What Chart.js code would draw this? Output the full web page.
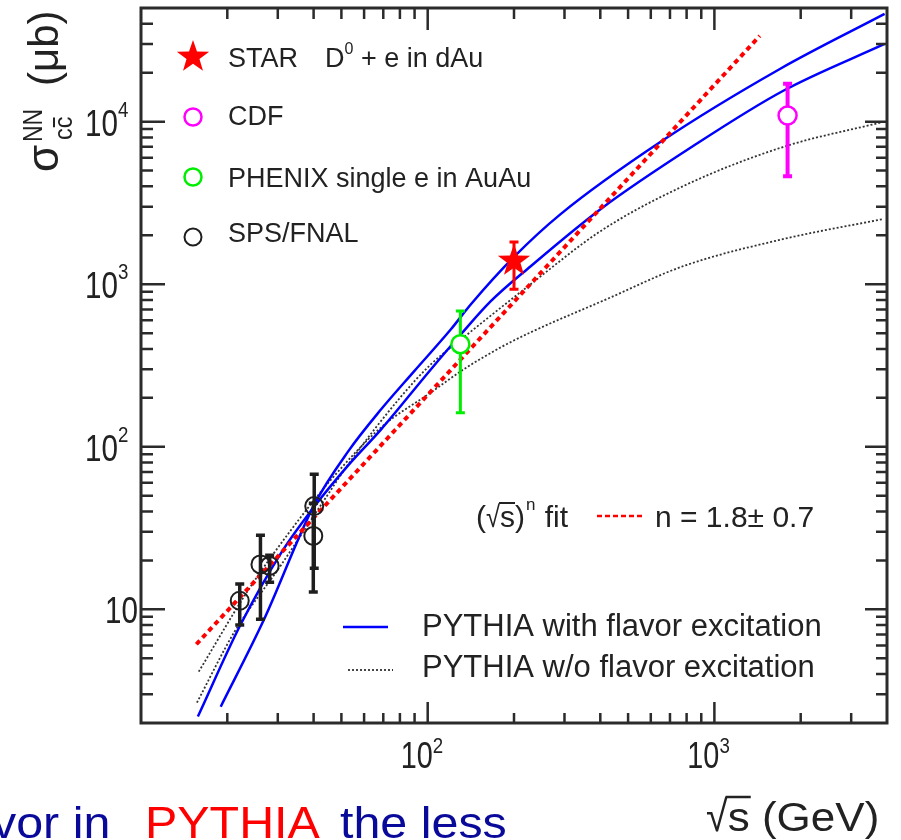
<!DOCTYPE html>
<html>
<head>
<meta charset="utf-8">
<script src="https://cdn.jsdelivr.net/npm/chart.js@4/dist/chart.umd.min.js"></script>
<style>
  html, body { margin: 0; padding: 0; background: #fff; overflow: hidden; }
  canvas { display: block; }
</style>
</head>
<body>
<canvas id="chart" width="901" height="840"></canvas>
<script>
// measured points
const starX = [200], starY = [1390], starLo = [930], starHi = [1820];
const cdfX = [1800], cdfY = [10900], cdfLo = [4610], cdfHi = [17100];
const phenixX = [130], phenixY = [428], phenixLo = [162], phenixHi = [685];
const spsX = [22.1, 26.1, 28.1, 40.2, 39.9];
const spsY = [11.3, 18.9, 18.5, 43.2, 28.3];
const spsLo = [8.0, 8.7, 14.7, 17.9, 12.8];
const spsHi = [14.3, 28.6, 21.5, 67.8, 45];

// PYTHIA with flavor excitation (upper / lower curve)
const fexHiX = [18.97, 26.75, 40.25, 52.8, 68.8, 89.6, 120.5, 141.5, 199.6, 290.8, 647.5, 1692, 3924];
const fexHiY = [2.52, 8.53, 44.2, 93.7, 170, 291, 528, 753, 1467, 2698, 7488, 21080, 45970];
const fexLoX = [15.79, 22.08, 30.9, 40.25, 52.8, 68.8, 102.7, 130.6, 166, 228.7, 400.6, 843, 1733, 3924];
const fexLoY = [2.19, 7.84, 22.4, 42.95, 76.8, 128, 300, 492, 786, 1291, 2895, 7077, 15430, 30050];

// PYTHIA w/o flavor excitation
const noFexHiX = [15.67, 21.21, 30.9, 42.56, 52.8, 80.8, 102.7, 133.7, 228.7, 400.6, 778.4, 1733, 3861];
const noFexHiY = [2.67, 7.30, 18.9, 44.2, 77.9, 204, 322, 472, 1000, 2120, 4012, 6977, 9943];
const noFexLoX = [15.9, 23.73, 33.47, 46.1, 68.8, 102.7, 133.7, 179.8, 228.7, 420.2, 778.4, 1733, 3861];
const noFexLoY = [4.14, 13.24, 31.0, 63.0, 131.7, 216, 300, 409, 506, 808, 1291, 1893, 2513];

// (sqrt s)^n fit
const fitX = [15.6, 200, 1440];
const fitY = [6.1, 780, 33700];

const xTickVals = [100, 1000], xTickExp = ['2', '3'];
const yTickVals = [10, 100, 1000, 10000], yTickExp = ['', '2', '3', '4'];

const FONT = '"Liberation Sans", Arial, sans-serif';
const pts = (xs, ys) => xs.map((x, i) => ({ x, y: ys[i] }));

const starImg = (() => {
    const c = document.createElement('canvas');
    c.width = c.height = 36;
    const g = c.getContext('2d');
    g.fillStyle = '#ff0000';
    g.beginPath();
    for (let i = 0; i < 10; i++) {
        const r = i % 2 ? 6.8 : 17;
        const a = -Math.PI / 2 + i * Math.PI / 5;
        g.lineTo(18 + r * Math.cos(a), 18 + r * Math.sin(a));
    }
    g.closePath();
    g.fill();
    return c;
})();

function txt(ctx, s, x, y, size, color, sx = 1, align = 'left') {
    ctx.save();
    ctx.font = size + 'px ' + FONT;
    ctx.fillStyle = color;
    ctx.textAlign = align;
    ctx.textBaseline = 'alphabetic';
    ctx.translate(x, y);
    ctx.scale(sx, 1);
    ctx.fillText(s, 0, 0);
    const w = ctx.measureText(s).width * sx;
    ctx.restore();
    return w;
}

const errSets = [
    { xs: starX, lo: starLo, hi: starHi, color: '#ff0000', w: 3 },
    { xs: cdfX, lo: cdfLo, hi: cdfHi, color: '#ff00ff', w: 4 },
    { xs: phenixX, lo: phenixLo, hi: phenixHi, color: '#00ee00', w: 3 },
    { xs: spsX, lo: spsLo, hi: spsHi, color: '#1e1e1e', w: 3.5 }
];

const decor = {
    id: 'decor',
    afterDatasetDraw(chart, args) {
        if (args.index !== 4) return;
        const { ctx, scales: { x, y } } = chart;
        ctx.save();
        errSets.forEach(e => {
            ctx.strokeStyle = e.color;
            ctx.lineWidth = e.w;
            e.xs.forEach((v, i) => {
                const px = x.getPixelForValue(v);
                const y1 = y.getPixelForValue(e.lo[i]);
                const y2 = y.getPixelForValue(e.hi[i]);
                ctx.beginPath();
                ctx.moveTo(px, y1); ctx.lineTo(px, y2);
                ctx.moveTo(px - 4.5, y1); ctx.lineTo(px + 4.5, y1);
                ctx.moveTo(px - 4.5, y2); ctx.lineTo(px + 4.5, y2);
                ctx.stroke();
            });
        });
        ctx.restore();
    },
    afterDraw(chart) {
        const { ctx, chartArea: a, scales: { x, y } } = chart;
        ctx.save();
        ctx.strokeStyle = '#2b2b2b';
        ctx.lineWidth = 2.5;
        // ticks on all four sides, pointing inward
        for (let d = 10; d <= 1000; d *= 10) {
            for (let m = 1; m <= 9; m++) {
                const v = m * d;
                if (v <= x.min || v >= x.max) continue;
                const px = x.getPixelForValue(v);
                const major = m === 1;
                ctx.beginPath();
                ctx.moveTo(px, a.bottom); ctx.lineTo(px, a.bottom - (major ? 21 : 10));
                ctx.moveTo(px, a.top); ctx.lineTo(px, a.top + (major ? 22 : 11));
                ctx.stroke();
            }
        }
        for (let d = 1; d <= 10000; d *= 10) {
            for (let m = 1; m <= 9; m++) {
                const v = m * d;
                if (v <= y.min || v >= y.max) continue;
                const py = y.getPixelForValue(v);
                const major = m === 1;
                ctx.beginPath();
                ctx.moveTo(a.left, py); ctx.lineTo(a.left + (major ? 24 : 12), py);
                ctx.moveTo(a.right, py); ctx.lineTo(a.right - (major ? 22 : 11), py);
                ctx.stroke();
            }
        }
        ctx.lineWidth = 3;
        ctx.strokeRect(a.left, a.top, a.right - a.left, a.bottom - a.top);
        ctx.restore();

        // tick labels
        const ink = '#222';
        yTickVals.forEach((v, i) => {
            const py = y.getPixelForValue(v);
            if (yTickExp[i]) {
                txt(ctx, '10', 118, py + 14, 37, ink, 0.8, 'right');
                txt(ctx, yTickExp[i], 118, py - 5, 22, ink, 0.85);
            } else {
                txt(ctx, '10', 138, py + 14, 37, ink, 0.8, 'right');
            }
        });
        xTickVals.forEach((v, i) => {
            const px = x.getPixelForValue(v);
            txt(ctx, '10', px + 5, 768, 36, ink, 0.8, 'right');
            txt(ctx, xTickExp[i], px + 5, 753, 22, ink, 0.85);
        });

        // axis titles
        ctx.save();
        ctx.translate(58, 172);
        ctx.rotate(-Math.PI / 2);
        txt(ctx, 'σ', 0, 0, 44, ink);
        txt(ctx, 'NN', 30, -16, 27, ink, 0.85);
        const cw = txt(ctx, 'c', 32, 14, 26, ink, 0.9);
        txt(ctx, 'c', 32 + cw, 14, 26, ink, 0.9);
        ctx.strokeStyle = ink; ctx.lineWidth = 2;
        ctx.beginPath(); ctx.moveTo(33 + cw, -4); ctx.lineTo(31 + 2 * cw, -4); ctx.stroke();
        txt(ctx, '(μb)', 86, 0, 42, ink);
        ctx.restore();

        let xx = 706;
        xx += txt(ctx, '√', xx, 831, 44, ink, 0.9);
        const sw = txt(ctx, 's', xx, 831, 40, ink, 1.1);
        ctx.save();
        ctx.strokeStyle = ink; ctx.lineWidth = 2.5;
        ctx.beginPath(); ctx.moveTo(xx - 2, 797); ctx.lineTo(xx + sw + 1, 797); ctx.stroke();
        ctx.restore();
        txt(ctx, ' (GeV)', xx + sw, 831, 40, ink, 1.1);

        // upper-left legend
        ctx.drawImage(starImg, 193 - 18, 57 - 18);
        [[117, '#ff00ff'], [177, '#00ee00'], [237, '#1e1e1e']].forEach(([cy, col]) => {
            ctx.save();
            ctx.strokeStyle = col; ctx.lineWidth = col === '#1e1e1e' ? 2 : 2.5;
            ctx.beginPath(); ctx.arc(193, cy, 8.5, 0, 2 * Math.PI); ctx.stroke();
            ctx.restore();
        });
        txt(ctx, 'STAR', 228, 67, 27, ink);
        let dx = 325 + txt(ctx, 'D', 325, 67, 27, ink);
        dx += txt(ctx, '0', dx, 54, 16, ink);
        txt(ctx, ' + e in dAu', dx, 67, 27, ink);
        txt(ctx, 'CDF', 228, 125, 27, ink);
        txt(ctx, 'PHENIX single e in AuAu', 228, 187, 27, ink);
        txt(ctx, 'SPS/FNAL', 228, 242, 27, ink);

        // fit label
        let fx = 476;
        fx += txt(ctx, '(', fx, 527, 30, ink);
        fx += txt(ctx, '√', fx, 527, 30, ink, 0.85);
        const fw = txt(ctx, 's', fx, 527, 30, ink);
        ctx.save();
        ctx.strokeStyle = ink; ctx.lineWidth = 2;
        ctx.beginPath(); ctx.moveTo(fx - 1, 503); ctx.lineTo(fx + fw, 503); ctx.stroke();
        ctx.restore();
        fx += fw;
        fx += txt(ctx, ')', fx, 527, 30, ink);
        fx += txt(ctx, 'n', fx + 1, 510, 17, ink);
        txt(ctx, ' fit', fx + 2, 527, 30, ink);
        ctx.save();
        ctx.strokeStyle = '#ff0000'; ctx.lineWidth = 2.5; ctx.setLineDash([5, 3]);
        ctx.beginPath(); ctx.moveTo(597, 516); ctx.lineTo(643, 516); ctx.stroke();
        ctx.restore();
        txt(ctx, 'n = 1.8± 0.7', 655, 527, 30, ink);

        // lower legend
        ctx.save();
        ctx.strokeStyle = '#0000ff'; ctx.lineWidth = 2.5;
        ctx.beginPath(); ctx.moveTo(343, 627); ctx.lineTo(388, 627); ctx.stroke();
        ctx.strokeStyle = '#333'; ctx.lineWidth = 1.8; ctx.setLineDash([2, 2]);
        ctx.beginPath(); ctx.moveTo(348, 670); ctx.lineTo(393, 670); ctx.stroke();
        ctx.restore();
        txt(ctx, 'PYTHIA with flavor excitation', 422, 636, 31, ink);
        txt(ctx, 'PYTHIA w/o flavor excitation', 422, 677, 31, ink);

        // slide caption, clipped at the canvas edge
        const navy = '#0a0a9a';
        txt(ctx, 'vor in', -8, 838, 44, navy, 1.1);
        txt(ctx, 'PYTHIA', 145, 838, 44, '#ff0000', 1.1);
        txt(ctx, 'the less', 340, 838, 44, navy, 1.1);
    }
};

const curve = (xs, ys, color, width, dash) => ({
    data: pts(xs, ys),
    showLine: true,
    borderColor: color,
    borderWidth: width,
    borderDash: dash,
    pointRadius: 0,
    fill: false,
    cubicInterpolationMode: 'monotone'
});

new Chart(document.getElementById('chart'), {
    type: 'scatter',
    data: {
        datasets: [
            { data: pts(starX, starY), pointStyle: starImg, pointRadius: 17 },
            { data: pts(cdfX, cdfY), pointStyle: 'circle', pointRadius: 9, borderColor: '#ff00ff', borderWidth: 2.5, backgroundColor: '#fff' },
            { data: pts(phenixX, phenixY), pointStyle: 'circle', pointRadius: 9, borderColor: '#00ee00', borderWidth: 2.5, backgroundColor: '#fff' },
            { data: pts(spsX, spsY), pointStyle: 'circle', pointRadius: 9, borderColor: '#1e1e1e', borderWidth: 2, backgroundColor: 'rgba(0,0,0,0)' },
            curve(fitX, fitY, '#ff0000', 4, [5, 4]),
            curve(fexHiX, fexHiY, '#0000ff', 2.5, []),
            curve(fexLoX, fexLoY, '#0000ff', 2.5, []),
            curve(noFexHiX, noFexHiY, '#333333', 1.8, [2, 2]),
            curve(noFexLoX, noFexLoY, '#333333', 1.8, [2, 2])
        ]
    },
    options: {
        responsive: false,
        animation: false,
        devicePixelRatio: 1,
        layout: { autoPadding: false, padding: { left: 141, top: 8, right: 14, bottom: 117 } },
        plugins: { legend: { display: false }, tooltip: { enabled: false } },
        scales: {
            x: { type: 'logarithmic', min: 10, max: 4000, display: false },
            y: { type: 'logarithmic', min: 2, max: 50000, display: false }
        }
    },
    plugins: [decor]
});
</script>
</body>
</html>
